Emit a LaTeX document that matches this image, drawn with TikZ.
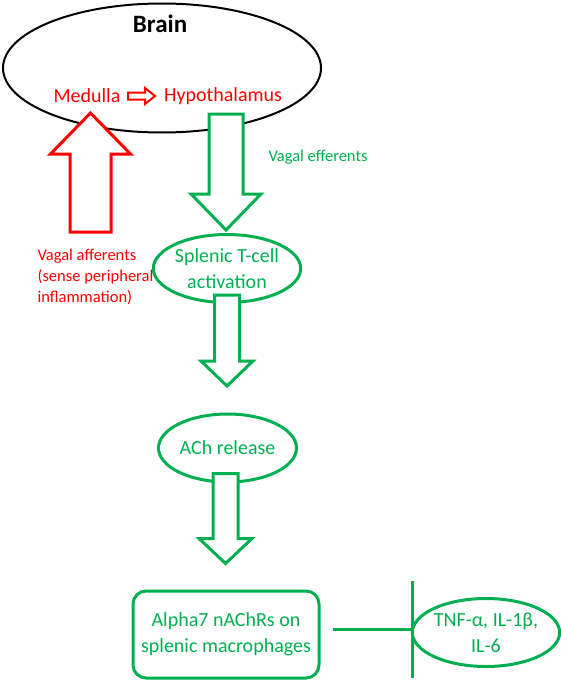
\documentclass[tikz,border=0pt]{standalone}
\usepackage{fontspec}
\setmainfont{Carlito}
\usepackage{tikz}
\usetikzlibrary{arrows.meta,shapes.geometric}
\definecolor{vgreen}{HTML}{00B050}
\definecolor{vred}{HTML}{FF0000}
\tikzset{
  pics/blockarrow/.style n args={4}{code={
    \draw [fill=white] (-#1,0) -- (#1,0) -- (#1,#2) -- (#3,#2) -- (0,{#2+#4}) -- (-#3,#2) -- (-#1,#2) -- cycle;
  }},
  gell/.style={ellipse, draw=vgreen, line width=3pt, text=vgreen, align=center,
    inner sep=0pt, minimum width=138pt, minimum height=68pt,
    font=\fontsize{20}{26}\selectfont},
  rtext/.style={text=vred, inner sep=0pt, font=\fontsize{20}{24}\selectfont},
  garr/.style={vgreen, line width=3pt},
  rarr/.style={vred, line width=3pt}
}

\begin{document}
\begin{tikzpicture}[x=1pt, y=-1pt]
\useasboundingbox (0,0) rectangle (561,685);
% мозг
\node (brain) [ellipse, draw, line width=2pt, inner sep=0pt,
  minimum width=318pt, minimum height=129pt] at (162,68) {};
\node (braintxt) [font=\fontsize{25}{30}\selectfont\bfseries] at (160,24) {Brain};
\node (medulla) [rtext] at (87,96) {Medulla};
\node (hypo) [rtext] at (223,96) {Hypothalamus};
\coordinate (ma) at (128,96);
\pic [rarr, line width=2pt, rotate=90] at (ma) {blockarrow={3.5}{17}{8}{10}};
% афференты
\coordinate (aff) at (90.5,232);
\pic [rarr, rotate=180] at (aff) {blockarrow={20.5}{78}{40}{41}};
\node (afftxt) [anchor=west, align=left, text=vred,
  font=\fontsize{16.5}{21}\selectfont] at (34,277)
  {Vagal afferents\\(sense peripheral\\inflammation)};
% эфференты
\coordinate (eff) at (226,114);
\pic [garr] at (eff) {blockarrow={17}{80}{35}{36}};
\node (efftxt) [text=vgreen, font=\fontsize{16.5}{20}\selectfont] at (318,157) {Vagal efferents};
% цепочка
\node (splenic) [gell] at (227,268.5) {Splenic T-cell\\activation};
\coordinate (a2) at ([yshift=9pt]splenic.south);
\pic [garr] at (a2) {blockarrow={12.5}{66}{26}{25}};
\node (ach) [gell] at (227.5,448) {ACh release};
\coordinate (a3) at ([xshift=-2pt, yshift=10pt]ach.south);
\pic [garr] at (a3) {blockarrow={12.5}{65}{26.5}{25}};
\node (alpha) [draw=vgreen, line width=3pt, rounded corners=13pt, text=vgreen,
  align=center, minimum width=186pt, minimum height=87pt,
  font=\fontsize{20}{26}\selectfont] at (226,634.5)
  {Alpha7 nAChRs on\\splenic macrophages};
\node (tnf) [gell] at (486,632.5) {TNF-α, IL-1β,\\IL-6};
% торможение
\coordinate (inh) at ([xshift=12pt, yshift=5.5pt]alpha.east);
\draw [garr, -{Bar[width=97pt, line width=3pt]}]
  (inh) -- ([xshift=3pt]inh -| tnf.west);
\end{tikzpicture}
\end{document}
